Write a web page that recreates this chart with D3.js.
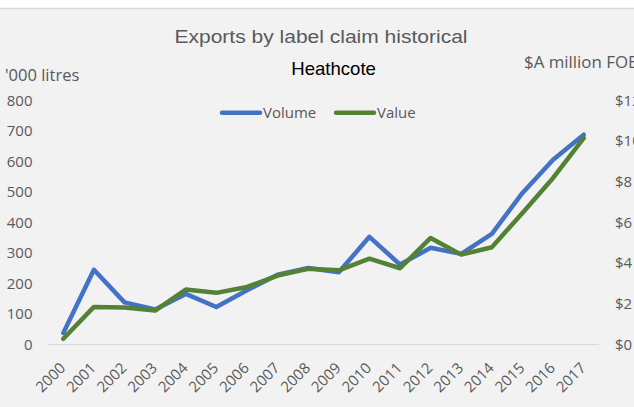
<!DOCTYPE html>
<html>
<head>
<meta charset="utf-8">
<style>
    html, body { margin: 0; padding: 0; background: #fff; }
    svg { display: block; }
    .tick-label { font: 15px "Open Sans", sans-serif; fill: #595959; }
</style>
</head>
<body>
<svg id="chart"></svg>
<script src="https://d3js.org/d3.v7.min.js"></script>
<script>
    // data
    var years = ["2000", "2001", "2002", "2003", "2004", "2005", "2006", "2007", "2008",
                 "2009", "2010", "2011", "2012", "2013", "2014", "2015", "2016", "2017"];
    // '000 litres (left axis)
    var volume = [38, 245, 138, 115, 166, 123, 178, 229, 251, 237, 353, 262, 317, 297, 363, 497, 606, 688];
    // $A million FOB (right axis)
    var value = [0.28, 1.85, 1.82, 1.67, 2.70, 2.54, 2.83, 3.39, 3.72, 3.65, 4.22, 3.75, 5.24, 4.42, 4.78, 6.47, 8.19, 10.15];
    var leftTicks = [0, 100, 200, 300, 400, 500, 600, 700, 800];
    var rightTicks = [0, 2, 4, 6, 8, 10, 12];

    var width = 634, height = 407;
    var blue = "#4472c4", green = "#548235";

    var svg = d3.select("#chart")
        .attr("width", width)
        .attr("height", height);

    // chart area background + top border
    svg.append("rect")
        .attr("x", 0).attr("y", 8.5)
        .attr("width", width).attr("height", height - 8.5)
        .attr("fill", "#f2f2f2");
    svg.append("line")
        .attr("x1", 0).attr("x2", width)
        .attr("y1", 8.5).attr("y2", 8.5)
        .attr("stroke", "#d9d9d9").attr("stroke-width", 1.5);

    var x = d3.scaleBand()
        .domain(years)
        .range([48, 599]);

    var yL = d3.scaleLinear()
        .domain([0, 800])
        .range([344.5, 100.5]);

    var yR = d3.scaleLinear()
        .domain([0, 12])
        .range([344.5, 100.5]);

    var cx = function(d) { return x(d) + x.bandwidth() / 2; };

    // baseline
    svg.append("line")
        .attr("x1", 48).attr("x2", 599)
        .attr("y1", yL(0)).attr("y2", yL(0))
        .attr("stroke", "#d9d9d9").attr("stroke-width", 1);

    // left axis labels
    svg.append("g").selectAll("text")
        .data(leftTicks)
        .enter().append("text")
        .attr("class", "tick-label")
        .attr("x", 32.5)
        .attr("y", d => yL(d))
        .attr("dy", "0.35em")
        .attr("text-anchor", "end")
        .text(d => d);

    // right axis labels (cut by the window edge, as in the original)
    svg.append("g").selectAll("text")
        .data(rightTicks)
        .enter().append("text")
        .attr("class", "tick-label")
        .attr("x", 615)
        .attr("y", d => yR(d))
        .attr("dy", "0.35em")
        .text(d => "$" + d);

    // x labels, rotated
    svg.append("g").selectAll("text")
        .data(years)
        .enter().append("text")
        .attr("class", "tick-label")
        .attr("text-anchor", "end")
        .attr("transform", d => "translate(" + (cx(d) + 3) + ",369) rotate(-45)")
        .text(d => d);

    // lines
    var lineL = d3.line()
        .x((d, i) => cx(years[i]))
        .y(d => yL(d));
    var lineR = d3.line()
        .x((d, i) => cx(years[i]))
        .y(d => yR(d));

    svg.append("path")
        .datum(volume)
        .attr("d", lineL)
        .attr("fill", "none")
        .attr("stroke", blue)
        .attr("stroke-width", 4.5)
        .attr("stroke-linejoin", "round")
        .attr("stroke-linecap", "round");

    svg.append("path")
        .datum(value)
        .attr("d", lineR)
        .attr("fill", "none")
        .attr("stroke", green)
        .attr("stroke-width", 4.5)
        .attr("stroke-linejoin", "round")
        .attr("stroke-linecap", "round");

    // titles
    svg.append("text")
        .attr("x", 321).attr("y", 42.7)
        .attr("text-anchor", "middle")
        .attr("textLength", 293)
        .attr("lengthAdjust", "spacingAndGlyphs")
        .style("font", "18.7px 'Liberation Sans', Arial, sans-serif")
        .style("fill", "#595959")
        .text("Exports by label claim historical");

    svg.append("text")
        .attr("x", 333.6).attr("y", 75)
        .attr("text-anchor", "middle")
        .style("font", "18.6px 'Liberation Sans', Arial, sans-serif")
        .style("fill", "#000")
        .text("Heathcote");

    svg.append("text")
        .attr("class", "tick-label")
        .attr("x", 5).attr("y", 81)
        .style("font-size", "16.5px")
        .text("'000 litres");

    // right axis title runs past the window edge in the original
    svg.append("text")
        .attr("class", "tick-label")
        .attr("x", 524).attr("y", 68.3)
        .style("font-size", "16.5px")
        .attr("textLength", 115)
        .attr("lengthAdjust", "spacingAndGlyphs")
        .text("$A million FOB");

    // legend
    var legend = [{name: "Volume", color: blue, x: 222}, {name: "Value", color: green, x: 336}];
    var lg = svg.append("g").selectAll("g")
        .data(legend)
        .enter().append("g")
        .attr("transform", d => "translate(" + d.x + ",112.7)");
    lg.append("line")
        .attr("x1", 0).attr("x2", 38)
        .attr("stroke", d => d.color)
        .attr("stroke-width", 4.5)
        .attr("stroke-linecap", "round");
    lg.append("text")
        .attr("class", "tick-label")
        .attr("x", 41)
        .attr("dy", "0.35em")
        .text(d => d.name);
</script>
</body>
</html>
